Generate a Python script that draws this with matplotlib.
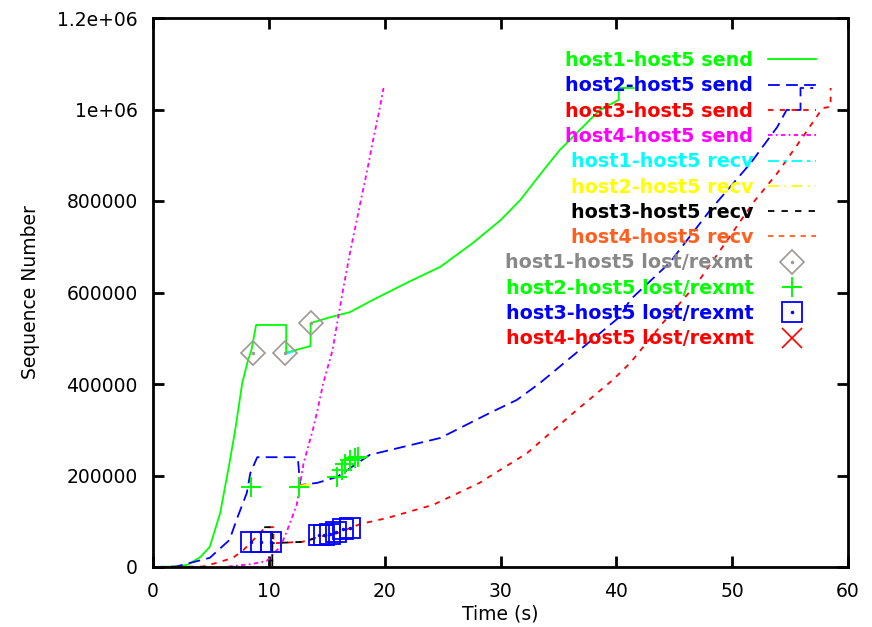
import matplotlib
matplotlib.use("Agg")
import matplotlib.pyplot as plt
from matplotlib.legend_handler import HandlerTuple

# ---------------- data ----------------
h1_send_t = [0, 2, 3, 4.1, 4.9, 5.8, 6.6, 7.1, 7.7, 8.2, 8.5, 8.9, 11.5, 11.5, 12.3, 13.6, 13.6,
             15.3, 17.0, 19.0, 21.9, 24.8, 27.6, 30.0, 31.7, 33.7, 35.1, 36.6, 37.7, 38.6,
             40.2, 40.2, 41.5]
h1_send_s = [0, 1000, 5000, 22000, 44000, 118000, 227000, 300000, 402000, 452000, 474000, 529000,
             529000, 468000, 474000, 483000, 533000, 546000, 557000, 584000, 621000, 656000,
             708000, 758000, 802000, 867000, 911000, 949000, 977000, 999000, 1021000, 1047000,
             1047000]

h2_send_t = [0, 2, 4.9, 6.6, 7.3, 8.1, 8.4, 9.0, 12.5, 12.7, 14.2, 15.9, 18.7, 24.8, 29.1, 31.4,
             33.4, 40.3, 41.2, 44.6, 48.1, 51.6, 53.9, 54.7, 55.9, 55.9, 57.0]
h2_send_s = [0, 1000, 20000, 59000, 109000, 162000, 205000, 240000, 240000, 179000, 184000,
             197000, 245000, 282000, 337000, 365000, 402000, 547000, 584000, 665000, 780000,
             883000, 962000, 999000, 999000, 1047000, 1047000]

h3_send_t = [0, 4.3, 5.5, 6.9, 7.8, 8.4, 9.7, 10.4, 10.4, 12.9, 14.2, 15.9, 17.9, 20.2, 24.2,
             28.2, 32.3, 36.3, 39.7, 41.2, 44.0, 47.0, 49.6, 51.8, 53.9, 56.1, 57.8, 58.5, 58.5]
h3_send_s = [0, 1000, 9000, 20000, 37000, 52000, 87000, 87000, 52000, 55000, 65000, 74000,
             94000, 107000, 136000, 184000, 249000, 337000, 409000, 446000, 533000, 621000,
             715000, 796000, 861000, 940000, 1003000, 1006000, 1047000]

h4_send_t = [6.5, 8.4, 9.8, 10.7, 11.0, 11.6, 12.4, 13.0, 13.8, 14.2, 14.7, 15.5, 15.9, 16.4,
             17.0, 17.9, 18.5, 19.0, 19.6, 19.9]
h4_send_s = [1000, 6000, 13000, 37000, 44000, 81000, 135000, 227000, 300000, 343000, 402000,
             474000, 533000, 605000, 686000, 796000, 868000, 933000, 1006000, 1047000]

h1_recv_t = [11.5, 12.2]
h1_recv_s = [466000, 472000]
h2_recv_t = [12.7, 13.9]
h2_recv_s = [178000, 182000]
h3_recv_t = [9.6, 10.3, 10.3, 10.3, 12.9, 14.5]
h3_recv_s = [87000, 87000, 0, 52000, 55000, 66000]
h4_recv_t = []
h4_recv_s = []

h1_lost_t = [8.6, 11.4, 13.6]
h1_lost_s = [468000, 468000, 533000]
h2_lost_t = [8.5, 12.6, 15.9, 16.3, 16.6, 17.0, 17.4, 17.7]
h2_lost_s = [175000, 175000, 197000, 213000, 225000, 234000, 238000, 240000]
h3_lost_t = [8.5, 9.3, 10.2, 14.3, 14.8, 15.3, 15.8, 16.4, 17.0]
h3_lost_s = [54000, 54000, 54000, 69000, 71000, 73000, 77000, 82000, 85000]
h4_lost_t = []
h4_lost_s = []

x_ticks = [0, 10, 20, 30, 40, 50, 60]
y_ticks = [0, 200000, 400000, 600000, 800000, 1000000, 1200000]
y_tick_labels = ["0", "200000", "400000", "600000", "800000", "1e+06", "1.2e+06"]

labels = ["host1-host5 send", "host2-host5 send", "host3-host5 send", "host4-host5 send",
          "host1-host5 recv", "host2-host5 recv", "host3-host5 recv", "host4-host5 recv",
          "host1-host5 lost/rexmt", "host2-host5 lost/rexmt", "host3-host5 lost/rexmt",
          "host4-host5 lost/rexmt"]

# ---------------- styles ----------------
GREEN, BLUE, RED, MAG = "#00ff00", "#0000ff", "#ff0000", "#ff00ff"
CYAN, YEL, BLK, ORG = "#00ffff", "#ffff00", "#000000", "#ff6020"
GRAY = "#a09890"

fig = plt.figure(figsize=(8.72, 6.27), dpi=100)
ax = fig.add_axes([153 / 872, 1 - 567 / 627, (848 - 153) / 872, (567 - 18) / 627])

lw = 1.3
l1, = ax.plot(h1_send_t, h1_send_s, color=GREEN, lw=lw, ls="-")
l2, = ax.plot(h2_send_t, h2_send_s, color=BLUE, lw=lw, dashes=(6.5, 3.5))
l3, = ax.plot(h3_send_t, h3_send_s, color=RED, lw=lw, dashes=(3, 3.5))
l4, = ax.plot(h4_send_t, h4_send_s, color=MAG, lw=lw, dashes=(2.5, 1.8, 1, 1.8))
r1, = ax.plot(h1_recv_t, h1_recv_s, color=CYAN, lw=lw, dashes=(6, 2.5, 2, 2.5))
r2, = ax.plot(h2_recv_t, h2_recv_s, color=YEL, lw=lw, dashes=(6, 3, 1, 3))
r3, = ax.plot(h3_recv_t, h3_recv_s, color=BLK, lw=lw, dashes=(3.5, 4))
r4, = ax.plot(h4_recv_t, h4_recv_s, color=ORG, lw=lw, dashes=(3, 3))

p1, = ax.plot(h1_lost_t, h1_lost_s, ls="none", marker="D", ms=12.5, mfc="none", mec=GRAY, mew=1.2)
p1d, = ax.plot(h1_lost_t, h1_lost_s, ls="none", marker="o", ms=1.5, mfc=GRAY, mec=GRAY)
p2, = ax.plot(h2_lost_t, h2_lost_s, ls="none", marker="+", ms=15, mec=GREEN, mew=1.4)
p3, = ax.plot(h3_lost_t, h3_lost_s, ls="none", marker="s", ms=14, mfc="none", mec=BLUE, mew=1.3)
p3d, = ax.plot(h3_lost_t, h3_lost_s, ls="none", marker="o", ms=1.5, mfc=BLUE, mec=BLUE)
p4, = ax.plot(h4_lost_t, h4_lost_s, ls="none", marker="x", ms=14, mec=RED, mew=1.2)

ax.set_xlim(0, 60)
ax.set_ylim(0, 1200000)
ax.set_xticks(x_ticks)
ax.set_xticklabels([str(v) for v in x_ticks])
ax.set_yticks(y_ticks)
ax.set_yticklabels(y_tick_labels)
ax.tick_params(direction="in", length=8, width=2, labelsize=13.5, pad=11,
               top=True, right=True, colors="black")
for s in ax.spines.values():
    s.set_linewidth(2)
ax.set_xlabel("Time (s)", fontsize=13.5, labelpad=2)
ax.set_ylabel("Sequence Number", fontsize=13.5, labelpad=12)

handles = [l1, l2, l3, l4, r1, r2, r3, r4, (p1, p1d), p2, (p3, p3d), p4]
text_colors = [GREEN, BLUE, RED, MAG, CYAN, YEL, BLK, ORG, "#888888", GREEN, BLUE, RED]
leg = ax.legend(handles, labels, loc="upper right",
                bbox_to_anchor=(816 / 872, 1 - 51 / 627), bbox_transform=fig.transFigure,
                markerfirst=False, frameon=False, prop={"weight": "bold", "size": 13.75},
                handlelength=2.5, handletextpad=0.78, labelspacing=0.33,
                borderaxespad=0, borderpad=0,
                handler_map={tuple: HandlerTuple(ndivide=1)})
for t, c in zip(leg.get_texts(), text_colors):
    t.set_color(c)

fig.savefig("out.png", dpi=100)
